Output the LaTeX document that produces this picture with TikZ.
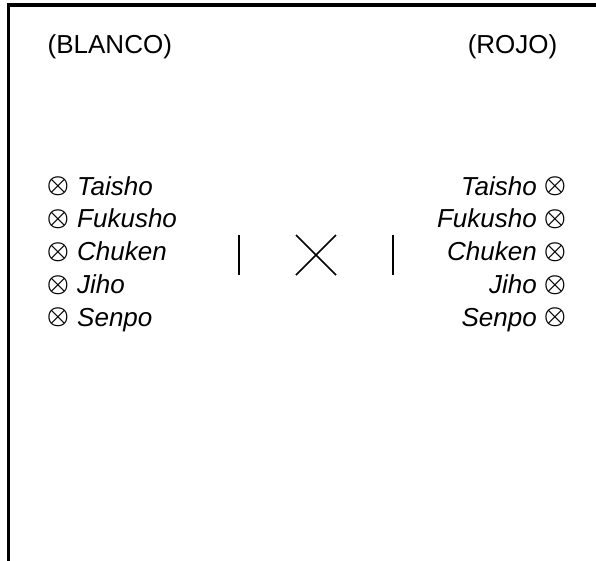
\documentclass[tikz,border=0pt]{standalone}
\usepackage{fontspec}
\setmainfont{Liberation Sans}
\begin{document}
\begin{tikzpicture}[x=1pt,y=-1pt,
  lbl/.style={inner sep=0pt,font=\fontsize{26}{31}\selectfont},
  sym/.style={inner sep=0pt,font=\fontsize{23}{28}\selectfont\boldmath},
  frame/.style={line width=3.3pt,line cap=rect},
  stroke/.style={line width=1.6pt}]
\useasboundingbox (0,0) rectangle (596,560);
\draw[frame] (8.5,560) -- (8.5,5) -- (596,5);
\node[lbl,anchor=base west] (blanco) at (47.5,53.3) {(BLANCO)};
\node[lbl,anchor=base east] (rojo) at (557.5,53.3) {(ROJO)};
% left column
\foreach \n/\t/\y in {l1/Taisho/195, l2/Fukusho/227.5, l3/Chuken/260.5, l4/Jiho/293.5, l5/Senpo/326}{
  \node[sym,anchor=base west] (\n s) at (46.6,\y) {\raisebox{0.1em}{$\otimes$}};
  \node[lbl,anchor=base west] (\n t) at (77,\y) {\textit{\t}};
}
% right column
\foreach \n/\t/\y in {r1/Taisho/195, r2/Fukusho/227.5, r3/Chuken/260.5, r4/Jiho/293.5, r5/Senpo/326}{
  \node[sym,anchor=base east] (\n s) at (566.4,\y) {\raisebox{0.1em}{$\otimes$}};
  \node[lbl,anchor=base east] (\n t) at (537,\y) {\textit{\t}};
}
% middle marks
\draw[stroke] (239,235) -- (239,275);
\draw[stroke] (296,235) -- (336,275);
\draw[stroke] (336,235) -- (296,275);
\draw[stroke] (392.7,235) -- (392.7,275);
\end{tikzpicture}
\end{document}
